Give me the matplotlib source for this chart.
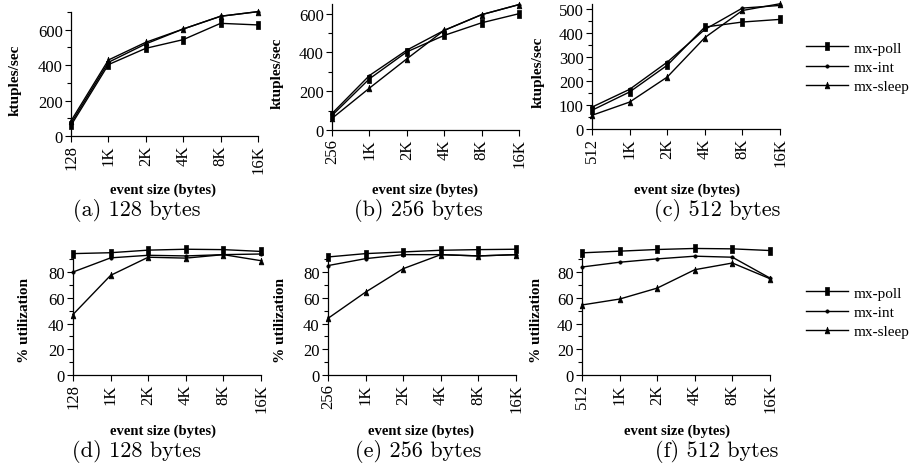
import matplotlib
matplotlib.use("Agg")
import matplotlib.pyplot as plt
from matplotlib.ticker import MultipleLocator

W, H = 912, 477
DPI = 100

sizes = ["1K", "2K", "4K", "8K", "16K"]
series_names = ["mx-poll", "mx-int", "mx-sleep"]

# throughput (ktuples/sec)
a_poll = [60, 403, 495, 544, 636, 627]
a_int = [72, 416, 520, 604, 676, 702]
a_sleep = [85, 429, 529, 604, 676, 702]

b_poll = [75, 264, 403, 488, 553, 600]
b_int = [85, 281, 412, 514, 595, 647]
b_sleep = [60, 216, 367, 514, 595, 647]

c_poll = [78, 154, 265, 424, 445, 456]
c_int = [91, 165, 278, 414, 503, 514]
c_sleep = [57, 112, 216, 380, 493, 521]

# utilization (%)
d_poll = [94.3, 95, 97, 97.7, 97.4, 96]
d_int = [80, 91, 93, 92.5, 93.5, 94]
d_sleep = [47, 77.4, 91.5, 90.8, 93.5, 88.8]

e_poll = [91.7, 94.3, 95.6, 96.9, 97.4, 97.7]
e_int = [85, 90.4, 93.5, 93.5, 92.5, 93.5]
e_sleep = [44, 64.4, 82.6, 93.5, 92.5, 93.5]

f_poll = [94.9, 96.2, 97.5, 98.3, 98, 96.7]
f_int = [83.9, 87.6, 90.2, 92.3, 91.5, 75.3]
f_sleep = [54.4, 59, 67.5, 81.8, 87, 74.8]

serif = ["Liberation Serif", "DejaVu Serif"]
plt.rcParams["font.family"] = serif

fig = plt.figure(figsize=(W / DPI, H / DPI), dpi=DPI)

rect_marker = [(-0.3, -0.5), (0.3, -0.5), (0.3, 0.5), (-0.3, 0.5), (-0.3, -0.5)]
tri_marker = [(-0.35, -0.5), (0.35, -0.5), (0.0, 0.5), (-0.35, -0.5)]
styles = [
    dict(marker=rect_marker, markersize=5.2),
    dict(marker="o", markersize=2.4),
    dict(marker=tri_marker, markersize=4.8),
]


def add_ax(left, right, bottom, top):
    return fig.add_axes([left / W, 1 - bottom / H, (right - left) / W, (bottom - top) / H])


panels = [
    (71, 258, 137, 13, "128", (a_poll, a_int, a_sleep), 700, 200, 100, "ktuples/sec", 15, "(a) 128 bytes", 137, 211, 163, 190),
    (332, 519, 131, 5, "256", (b_poll, b_int, b_sleep), 650, 200, 100, "ktuples/sec", 277, "(b) 256 bytes", 418, 211, 425, 190),
    (592, 780, 130, 5, "512", (c_poll, c_int, c_sleep), 520, 100, 50, "ktuples/sec", 538, "(c) 512 bytes", 717, 211, 687, 190),
    (73, 261, 376, 255, "128", (d_poll, d_int, d_sleep), 94, 20, 10, "% utilization", 25, "(d) 128 bytes", 137, 452, 163, 431),
    (328, 516, 376, 255, "256", (e_poll, e_int, e_sleep), 94, 20, 10, "% utilization", 281, "(e) 256 bytes", 418, 452, 421, 431),
    (582, 770, 376, 255, "512", (f_poll, f_int, f_sleep), 94, 20, 10, "% utilization", 537, "(f) 512 bytes", 717, 452, 677, 431),
]

for (l, r, b, t, first, data, ytop, major, minor, ylab, ylx, cap, capx, capy, xlx, xly) in panels:
    ax = add_ax(l, r, b, t)
    labels = [first] + sizes
    xs = list(range(len(labels)))
    handles = []
    for vals, st, name in zip(data, styles, series_names):
        h, = ax.plot(xs, vals, color="black", lw=1.0, clip_on=False,
                     markerfacecolor="black", markeredgecolor="black",
                     markeredgewidth=0.5, label=name, **st)
        handles.append(h)
    ax.set_xlim(0, len(labels) - 1)
    ax.set_ylim(0, ytop)
    ax.set_xticks(xs)
    ax.set_xticklabels(labels, rotation=90, fontsize=12)
    ax.yaxis.set_major_locator(MultipleLocator(major))
    ax.yaxis.set_minor_locator(MultipleLocator(minor))
    ax.tick_params(axis="y", labelsize=12, direction="out", length=4, width=0.8, pad=2)
    ax.tick_params(axis="y", which="minor", length=3, width=0.8)
    ax.tick_params(axis="x", direction="out", length=4, width=0.8, pad=2)
    for s in ("top", "right"):
        ax.spines[s].set_visible(False)
    for s in ("left", "bottom"):
        ax.spines[s].set_linewidth(0.9)
    fig.text(xlx / W, 1 - xly / H, "event size (bytes)", ha="center", va="center",
             fontsize=10.5, fontweight="bold")
    fig.text(ylx / W, 1 - ((b + t) / 2 + 5) / H, ylab, ha="center", va="center",
             rotation=90, fontsize=11, fontweight="bold")
    fig.text(capx / W, 1 - capy / H, cap, ha="center", va="center",
             fontsize=16, family=["cmr10", "DejaVu Serif"])

# legends
for ly in (68, 313):
    fig.legend(handles, series_names, loc="center left",
               bbox_to_anchor=(806 / W, 1 - ly / H), frameon=False,
               fontsize=11, handlelength=2.75, handletextpad=0.4,
               labelspacing=0.35, borderpad=0, borderaxespad=0)

fig.savefig("out.png", dpi=DPI)
